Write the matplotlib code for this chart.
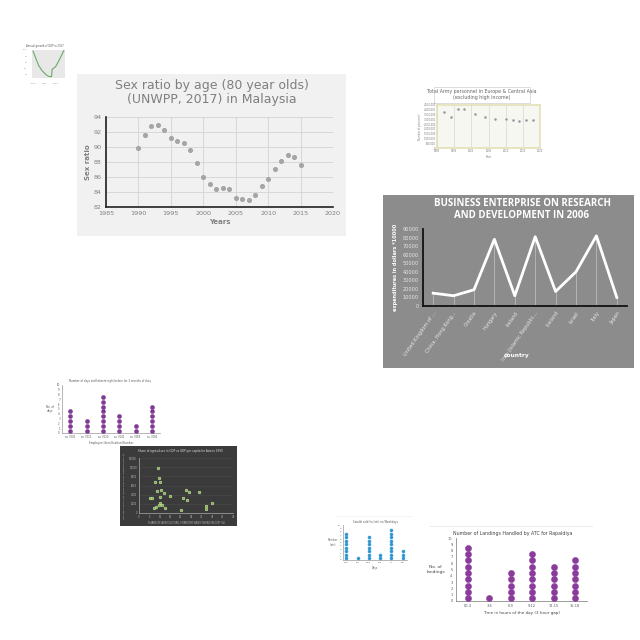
"""Collage of eight small charts on one 640x640 canvas."""

import matplotlib

matplotlib.use("Agg")

import matplotlib.pyplot as plt
from matplotlib.patches import Rectangle

W = H = 640

# --- tiny green line chart (top left) ---
tiny_x = [1960, 1965, 1970, 1975, 1980, 1985, 1990, 1993, 1994, 2000, 2005, 2010, 2015]
tiny_y = [96, 72, 50, 36, 26, 18, 14, 15, 38, 46, 62, 80, 98]

# --- sex ratio, Malaysia ---
sex_years = list(range(1990, 2016))
sex_ratio = [89.9, 91.6, 92.8, 93.0, 92.3, 91.2, 90.8, 90.6, 89.6, 87.9, 86.0, 85.1,
             84.4, 84.5, 84.4, 83.2, 83.1, 83.0, 83.6, 84.8, 85.7, 87.1, 88.2, 88.9,
             88.7, 87.6]

# --- army personnel ---
army_years = [1992, 1994, 1996, 1998, 2001, 2004, 2007, 2010, 2012, 2014, 2016, 2018]
army_values = [3720000, 3280000, 4060000, 4130000, 3550000, 3210000, 3050000, 3010000,
               2880000, 2810000, 2940000, 2940000]

# --- business enterprise R&D ---
countries = ["United Kingdom of ...", "China, Hong Kong...", "Croatia", "Hungary",
             "Ireland", "Iran (Islamic Republic...", "Iceland", "Israel", "Italy", "Japan"]
expenditure = [15000, 12000, 19000, 78000, 12000, 81000, 17000, 40000, 82000, 10000]

# --- days absent dot plot ---
staff_ids = ["ac 3001", "ac 3011", "ac 3020", "ac 3041", "ac 3065", "ac 3081"]
days_absent = [5, 3, 8, 4, 2, 6]

# --- agriculture share vs GDP per capita ---
agri_share = [9.1, 9.6, 7.5, 9.9, 8.8, 10.4, 11.8, 10.2, 5.1, 6.4, 15.0, 9.9, 9.6, 8.3,
              11.2, 12.3, 7.2, 22.3, 23.8, 28.5, 21.1, 23.1, 20.3, 31.9, 35.1, 31.9]
gdp_per_capita = [9870, 7590, 6830, 6680, 4780, 5010, 4400, 3490, 3260, 3260, 3800,
                  2280, 1750, 1370, 1750, 990, 990, 4930, 4550, 4630, 3260, 2880, 610,
                  1590, 2130, 830]

# --- blue dot plot ---
blue_labels = ["Mon", "Tue", "Wed", "Thu", "Fri", "Sat"]
blue_counts = [8, 1, 7, 2, 9, 3]

# --- landings handled by ATC ---
time_slots = ["00-3", "3-6", "6-9", "9-12", "12-15", "15-18"]
landings = [9, 1, 5, 8, 6, 7]

fig = plt.figure(figsize=(6.4, 6.4), dpi=100)
fig.patch.set_facecolor("white")


def px_axes(x0, y0, x1, y1):
    return fig.add_axes([x0 / W, 1 - y1 / H, (x1 - x0) / W, (y1 - y0) / H])


def panel(x0, y0, x1, y1, color, edge="none"):
    fig.add_artist(Rectangle((x0 / W, 1 - y1 / H), (x1 - x0) / W, (y1 - y0) / H,
                             transform=fig.transFigure, facecolor=color,
                             edgecolor=edge, lw=0.5, zorder=-1))


def ftext(x, y, s, **kw):
    fig.text(x / W, 1 - y / H, s, ha=kw.pop("ha", "center"), va=kw.pop("va", "center"), **kw)


def dot_plot(ax, counts, color, size, offset=0.45):
    for i, n in enumerate(counts):
        ax.scatter([i] * n, [k + offset for k in range(n)], s=size, color=color,
                   edgecolors=color, linewidths=0.3, zorder=3)


# 1. tiny green line chart
ftext(45, 46, "Annual growth of GDP in 2017", fontsize=1.8, color="#555555")
ax = px_axes(32, 50, 65, 78)
ax.set_facecolor("#e8e8e8")
ax.plot(tiny_x, tiny_y, color="#6aaa6a", lw=0.8)
ax.set_xlim(1958, 2017)
ax.set_ylim(10, 100)
ax.tick_params(labelsize=1.5, length=0, colors="#999999")
for s in ax.spines.values():
    s.set_visible(False)

# 2. sex ratio
panel(77, 74, 346, 236, "#f1f1f1")
ftext(212, 85, "Sex ratio by age (80 year olds)", fontsize=9, color="#7f7f7f")
ftext(212, 100, "(UNWPP, 2017) in Malaysia", fontsize=9, color="#7f7f7f")
ax = px_axes(106, 117, 333, 207)
ax.set_facecolor("none")
ax.scatter(sex_years, sex_ratio, s=7, color="#a5a5a5", zorder=3)
ax.set_xlim(1985, 2020)
ax.set_ylim(82, 94)
ax.set_xticks(range(1985, 2021, 5))
ax.set_yticks(range(82, 95, 2))
ax.grid(True, color="#d4d4d4", lw=0.6)
ax.tick_params(labelsize=4.6, length=0, colors="#808080", pad=3)
for side in ("top", "right"):
    ax.spines[side].set_visible(False)
for side in ("left", "bottom"):
    ax.spines[side].set_color("#222222")
    ax.spines[side].set_linewidth(1.2)
ax.set_xlabel("Years", fontsize=5, color="#808080", fontweight="bold", labelpad=2)
ax.set_ylabel("Sex ratio", fontsize=5, color="#808080", fontweight="bold", labelpad=2)

# 3. army personnel
panel(434, 87, 530, 103, "white", edge="#cfcfcf")
ftext(482, 91, "Total Army personnel in Europe & Central Asia", fontsize=3.4, color="#666666")
ftext(482, 98, "(excluding high income)", fontsize=3.4, color="#666666")
ax = px_axes(437, 105, 540, 148)
ax.set_facecolor("#f7f7f2")
ax.scatter(army_years, army_values, s=5, color="#9a9a9a", edgecolors="white",
           linewidths=0.3, zorder=3)
ax.set_xlim(1990, 2020)
ax.set_ylim(0, 4500000)
ax.set_xticks(range(1990, 2021, 5))
ax.set_yticks(range(0, 4500001, 500000))
ax.set_yticklabels([f"{v:,}" for v in range(0, 4500001, 500000)])
ax.grid(True, axis="x", color="#cccccc", lw=0.4)
ax.tick_params(labelsize=1.8, length=0, colors="#777777", pad=1)
for s in ax.spines.values():
    s.set_color("#e4e0b8")
    s.set_linewidth(1.2)
ax.set_xlabel("Year", fontsize=2, color="#777777", labelpad=1)
ax.set_ylabel("Number of personnel", fontsize=1.8, color="#777777", labelpad=1)

# 4. business enterprise R&D
panel(383, 195, 634, 368, "#8c8c8c")
ftext(522, 204, "BUSINESS ENTERPRISE ON RESEARCH", fontsize=7, color="white",
      fontweight="bold", family="Open Sans")
ftext(522, 216, "AND DEVELOPMENT IN 2006", fontsize=7, color="white",
      fontweight="bold", family="Open Sans")
ax = px_axes(423, 229, 627, 306)
ax.set_facecolor("none")
xs = list(range(len(countries)))
ax.vlines(xs, 0, expenditure, color="#c4c4c4", lw=0.5, zorder=2)
ax.plot(xs, expenditure, color="white", lw=2, zorder=3)
ax.set_xlim(-0.5, 9.5)
ax.set_ylim(0, 90000)
ax.set_yticks(range(0, 90001, 10000))
ax.set_xticks(xs)
ax.set_xticklabels(countries, rotation=55, ha="right", rotation_mode="anchor")
ax.tick_params(labelsize=3.6, length=0, colors="#e6e6e6", pad=3)
for side in ("top", "right"):
    ax.spines[side].set_visible(False)
for side in ("left", "bottom"):
    ax.spines[side].set_color("#111111")
    ax.spines[side].set_linewidth(1.3)
ax.set_ylabel("expenditures in dollars *10000", fontsize=3.6, color="white",
              fontweight="bold", labelpad=3)
ftext(517, 356, "country", fontsize=4.2, color="white", fontweight="bold")

# 5. days absent dot plot
ftext(110, 381, "Number of days staff absent right before for 3 months of duty", fontsize=1.9,
      color="#555555")
ax = px_axes(62, 385, 160, 433)
dot_plot(ax, days_absent, "#7f3a94", 9, offset=0.5)
ax.set_xlim(-0.5, 5.5)
ax.set_ylim(0, 10)
ax.set_yticks(range(0, 11))
ax.set_xticks(range(len(staff_ids)))
ax.set_xticklabels(staff_ids)
ax.tick_params(labelsize=1.9, length=0, colors="#555555", pad=1.5)
for side in ("top", "right"):
    ax.spines[side].set_visible(False)
for side in ("left", "bottom"):
    ax.spines[side].set_color("#999999")
    ax.spines[side].set_linewidth(0.5)
ax.set_xlabel("Employee Identification Number", fontsize=2, color="#555555", labelpad=1.5)
ax.set_ylabel("No. of\ndays", fontsize=2, color="#555555", rotation=0, labelpad=5, va="center")

# 6. agriculture share scatter
panel(120, 446, 237, 526, "#3b3b3b")
ftext(180, 451, "Share of agriculture in GDP vs GDP per capita for Asia in 1990",
      fontsize=2, color="#dddddd")
ax = px_axes(139, 458, 233, 513)
ax.set_facecolor("none")
ax.scatter(agri_share, gdp_per_capita, s=4, color="#7cb342", edgecolors="#e8f5d0",
           linewidths=0.3, zorder=3)
ax.set_xlim(0, 45)
ax.set_ylim(0, 12000)
ax.set_xticks(range(0, 46, 5))
ax.set_yticks(range(0, 12001, 2000))
ax.grid(True, axis="y", color="#4a4a4a", lw=0.4)
ax.tick_params(labelsize=1.8, length=0, colors="#bbbbbb", pad=1.5)
for side in ("top", "right"):
    ax.spines[side].set_visible(False)
for side in ("left", "bottom"):
    ax.spines[side].set_color("#9a9a9a")
    ax.spines[side].set_linewidth(0.6)
ax.set_xlabel("SHARE OF AGRICULTURE, FORESTRY AND FISHING IN GDP (%)", fontsize=1.8,
              color="#bbbbbb", labelpad=1.5)
ax.set_ylabel("GDP PER CAPITA, PPP (CONSTANT 2011 INTERNATIONAL $)", fontsize=1.6,
              color="#bbbbbb", labelpad=2)

# 7. blue dot plot
fig.add_artist(plt.Line2D([335 / W, 412 / W], [1 - 516 / H, 1 - 516 / H],
                          transform=fig.transFigure, color="#eeeeee", lw=0.5))
ftext(375, 522, "Candle sold (in lots) on Weekdays", fontsize=1.9, color="#555555")
ax = px_axes(343, 525, 407, 560)
dot_plot(ax, blue_counts, "#2f97d3", 5, offset=0.45)
ax.set_xlim(-0.3, 5.4)
ax.set_ylim(0, 10)
ax.set_yticks(range(0, 11))
ax.set_xticks(range(len(blue_labels)))
ax.set_xticklabels(blue_labels)
ax.tick_params(labelsize=1.6, length=0, colors="#555555", pad=1.5)
for side in ("top", "right"):
    ax.spines[side].set_visible(False)
for side in ("left", "bottom"):
    ax.spines[side].set_color("#999999")
    ax.spines[side].set_linewidth(0.5)
ax.set_xlabel("Days", fontsize=1.8, color="#555555", labelpad=2)
ax.set_ylabel("Number\n(lots)", fontsize=1.8, color="#555555", rotation=0, labelpad=4,
              va="center")

# 8. landings handled by ATC
fig.add_artist(plt.Line2D([430 / W, 592 / W], [1 - 526 / H, 1 - 526 / H],
                          transform=fig.transFigure, color="#e8e8e8", lw=0.6))
ftext(513, 533, "Number of Landings Handled by ATC for Rapaldiya", fontsize=3.4,
      color="#444444")
ax = px_axes(456, 538, 587, 601)
dot_plot(ax, landings, "#8a3b9b", 20, offset=0.45)
ax.set_xlim(-0.55, 5.55)
ax.set_ylim(0, 10)
ax.set_yticks(range(0, 11))
ax.set_xticks(range(len(time_slots)))
ax.set_xticklabels(time_slots)
ax.tick_params(labelsize=2.5, length=0, colors="#555555", pad=2.5)
for side in ("top", "right"):
    ax.spines[side].set_visible(False)
for side in ("left", "bottom"):
    ax.spines[side].set_color("#8c8c8c")
    ax.spines[side].set_linewidth(0.6)
ax.set_xlabel("Time in hours of the day (3 hour gap)", fontsize=3, color="#444444", labelpad=2)
ax.set_ylabel("No. of\nlandings", fontsize=3.2, color="#444444", rotation=0, labelpad=9,
              va="center")

fig.savefig("out.png", dpi=100)
plt.close(fig)
